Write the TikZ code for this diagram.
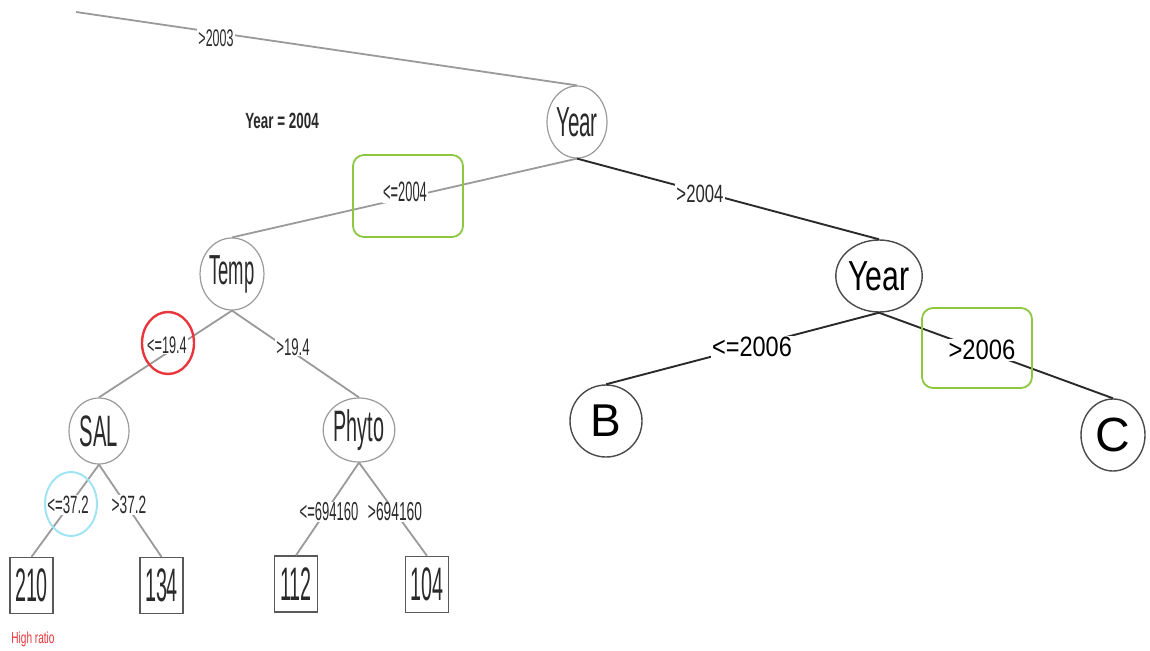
\documentclass[tikz,border=0pt]{standalone}
\usepackage{fontspec}
\usepackage{graphicx}
\setmainfont{Liberation Sans}
\usetikzlibrary{shapes.geometric}
\definecolor{hlgreen}{HTML}{8DC63F}
\definecolor{hlred}{HTML}{E8363C}
\definecolor{hlcyan}{HTML}{A0E4F4}
\definecolor{edgegray}{HTML}{9A9A9A}
\definecolor{inkdark}{HTML}{2A2A2A}
\newcommand{\cnd}[3]{\fontsize{#1}{#1}\selectfont\scalebox{#2}[1]{#3}}
\tikzset{
  ell/.style={ellipse, draw=edgegray, line width=1.2pt, inner sep=0pt, text=inkdark},
  darkell/.style={ellipse, draw=inkdark!85, line width=1.4pt, inner sep=0pt, text=black},
  leaf/.style={rectangle, draw=gray!70!black, line width=1.3pt, minimum width=43pt, minimum height=56pt, inner sep=0pt, text=inkdark},
  gedge/.style={draw=edgegray, line width=1.8pt},
  dedge/.style={draw=inkdark, line width=1.9pt},
  lbl/.style={fill=white, inner sep=1pt, text=inkdark},
  hlbox/.style={draw=hlgreen, line width=1.8pt, rounded corners=11pt},
}
\begin{document}
\begin{tikzpicture}[x=1pt,y=-1pt]
\useasboundingbox (0,0) rectangle (1150,650);
% nodes
\node[ell, minimum width=60pt, minimum height=72pt] (year1) at (577,122) {\cnd{42}{0.49}{Year}};
\node[ell, minimum width=58pt, minimum height=72pt] (temp) at (232,274) {\cnd{42}{0.44}{Temp}};
\node[darkell, minimum width=68pt, minimum height=72pt] (year2) at (879,276) {\cnd{42}{0.72}{Year}};
\node[ell, minimum width=60pt, minimum height=66pt] (sal) at (99,431) {\cnd{44}{0.46}{SAL}};
\node[ell, minimum width=58pt, minimum height=64pt] (phyto) at (359,430) {\cnd{44}{0.45}{Phyto}};
\node[darkell, minimum width=72pt, minimum height=72pt] (b) at (606,421) {\cnd{46}{1}{B}};
\node[darkell, minimum width=64pt, minimum height=72pt] (c) at (1113,435) {\cnd{48}{1}{C}};
\node[leaf] (l210) at (31.5,585.5) {\cnd{47}{0.42}{210}};
\node[leaf] (l134) at (161.5,585.5) {\cnd{47}{0.42}{134}};
\node[leaf] (l112) at (296,584) {\cnd{47}{0.42}{112}};
\node[leaf] (l104) at (427,584.5) {\cnd{47}{0.42}{104}};
\coordinate (start) at (76,12);
% edges
\draw[gedge] (start) -- (year1.north);
\draw[gedge] (year1.south) -- (temp.north);
\draw[dedge] (year1.south) -- (year2.north);
\draw[gedge] (temp.south) -- (sal.north);
\draw[gedge] (temp.south) -- (phyto.north);
\draw[gedge] (sal.south) -- (l210.north);
\draw[gedge] (sal.south) -- (l134.north);
\draw[gedge] (phyto.south) -- (l112.north);
\draw[gedge] (phyto.south) -- (l104.north);
\draw[dedge] (year2.south) -- (b.north);
\draw[dedge] (year2.south) -- (c.north);
% edge labels
\node[lbl] (t2003) at (216,38) {\cnd{24}{0.52}{>2003}};
\node[lbl] (t2004a) at (405,192) {\cnd{28}{0.46}{<=2004}};
\node[lbl] (t2004b) at (700,194) {\cnd{25}{0.67}{>2004}};
\node[lbl] (t194a) at (167,345) {\cnd{24}{0.53}{<=19.4}};
\node[lbl] (t194b) at (293,347) {\cnd{24}{0.55}{>19.4}};
\node[lbl] (t372a) at (68,505) {\cnd{25}{0.53}{<=37.2}};
\node[lbl] (t372b) at (129,505) {\cnd{25}{0.55}{>37.2}};
\node[lbl] (t694a) at (329,512) {\cnd{26}{0.5}{<=694160}};
\node[lbl] (t694b) at (395,512) {\cnd{26}{0.53}{>694160}};
\node[lbl, text=black] (t2006a) at (752,347) {\cnd{28}{0.84}{<=2006}};
\node[lbl, text=black] (t2006b) at (982,350) {\cnd{28}{0.85}{>2006}};
% free texts
\node[text=inkdark, inner sep=0pt] (yeartxt) at (282,121) {\bfseries\cnd{22}{0.61}{Year = 2004}};
\node[text=hlred, inner sep=0pt] (hiratio) at (33,639) {\cnd{16}{0.63}{High ratio}};
% highlights
\node[hlbox, minimum width=110pt, minimum height=82pt] (hl1) at (408,196) {};
\node[hlbox, minimum width=110pt, minimum height=80pt] (hl2) at (977,348) {};
\node[ellipse, draw=hlred, line width=2.4pt, minimum width=52pt, minimum height=62pt, inner sep=0pt] (hl3) at (168,343) {};
\node[ellipse, draw=hlcyan, line width=2pt, minimum width=52pt, minimum height=64pt, inner sep=0pt] (hl4) at (71,504) {};
\end{tikzpicture}
\end{document}
